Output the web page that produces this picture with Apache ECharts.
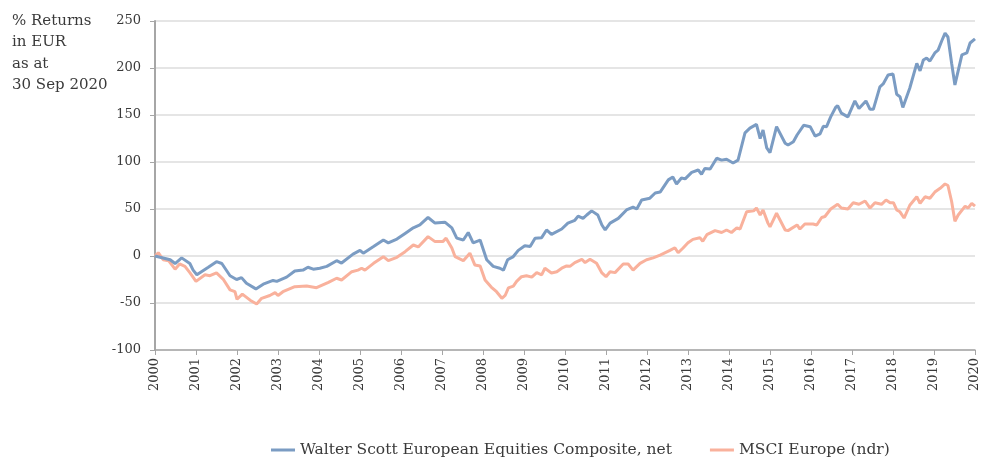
<!DOCTYPE html>
<html>
<head>
<meta charset="utf-8">
<script src="https://cdn.jsdelivr.net/npm/echarts@6/dist/echarts.min.js"></script>
<style>
  html, body { margin: 0; padding: 0; background: #fff; }
  #chart { width: 992px; height: 458px; }
</style>
</head>
<body>
<div id="chart"></div>
<script>
/* % returns in EUR, Walter Scott European Equities vs MSCI Europe (ndr) */
const SERIES_NAMES = ["Walter Scott European Equities Composite, net", "MSCI Europe (ndr)"];
const TITLE_LINES = ["% Returns", "in EUR", "as at", "30 Sep 2020"];
const YEAR_TICKS = [2000, 2020, 1];

// Walter Scott composite — decimal year / % return
const wsYears = [2000.0, 2000.37, 2000.49, 2000.65, 2000.85, 2000.93, 2001.02, 2001.3, 2001.5, 2001.63, 2001.83,
  2001.99, 2002.11, 2002.23, 2002.46, 2002.64, 2002.88, 2002.97, 2003.21, 2003.41, 2003.61, 2003.73, 2003.86,
  2004.02, 2004.19, 2004.43, 2004.55, 2004.83, 2005.0, 2005.08, 2005.33, 2005.57, 2005.69, 2005.9, 2006.1,
  2006.3, 2006.46, 2006.66, 2006.83, 2007.07, 2007.24, 2007.36, 2007.52, 2007.64, 2007.76, 2007.93, 2008.09,
  2008.25, 2008.41, 2008.5, 2008.6, 2008.73, 2008.86, 2009.02, 2009.15, 2009.27, 2009.43, 2009.55, 2009.67,
  2009.92, 2010.07, 2010.24, 2010.32, 2010.44, 2010.53, 2010.65, 2010.8, 2010.9, 2010.98, 2011.1, 2011.3,
  2011.5, 2011.66, 2011.75, 2011.87, 2012.07, 2012.2, 2012.32, 2012.52, 2012.63, 2012.72, 2012.84, 2012.93,
  2013.09, 2013.25, 2013.33, 2013.41, 2013.54, 2013.7, 2013.82, 2013.94, 2014.1, 2014.22, 2014.39, 2014.51,
  2014.67, 2014.76, 2014.83, 2014.92, 2015.0, 2015.16, 2015.37, 2015.44, 2015.57, 2015.66, 2015.82, 2015.98,
  2016.1, 2016.22, 2016.3, 2016.38, 2016.48, 2016.6, 2016.65, 2016.74, 2016.9, 2017.07, 2017.17, 2017.34,
  2017.44, 2017.52, 2017.68, 2017.76, 2017.88, 2018.0, 2018.09, 2018.17, 2018.24, 2018.41, 2018.58, 2018.66,
  2018.74, 2018.82, 2018.9, 2019.02, 2019.1, 2019.19, 2019.27, 2019.34, 2019.43, 2019.51, 2019.68, 2019.8,
  2019.88, 2020.0];
const wsReturns = [0, -4, -8, -2, -8, -15, -20, -12, -6, -8, -21,
  -25, -23, -29, -35, -30, -26, -27, -22.5, -16, -15, -12, -14,
  -13, -11, -5, -7.5, 2, 6, 3, 10, 17, 14, 18, 24,
  30, 33, 41, 35, 36, 30, 19, 17, 25, 14, 17, -4,
  -11, -13, -15, -4, -1, 6, 11, 10, 19, 19.5, 27.7, 23,
  28.7, 35, 38, 42.5, 40, 43.6, 48, 43.6, 33, 27.7, 35, 40,
  49, 52, 50, 59.6, 61.5, 67, 68, 81, 84, 76.6, 83, 82,
  89, 91.5, 87, 93, 92.5, 104, 102, 103, 99, 102, 131, 136,
  140, 125, 134, 115, 110, 137.6, 120, 118, 121.6, 128.7, 139, 137.6,
  127.6, 130, 138, 137.6, 148, 158, 160, 152, 148, 165, 157, 165,
  156, 156, 180, 183, 192.5, 193.6, 172, 169.5, 158, 178.7, 205, 197,
  208.5, 210.6, 207.4, 216, 219, 229, 237, 233, 205, 182, 214, 216,
  226.6, 231];

// MSCI Europe (ndr) — decimal year / % return
const msYears = [2000.0, 2000.08, 2000.2, 2000.33, 2000.49, 2000.6, 2000.73, 2000.85, 2001.0, 2001.22, 2001.34,
  2001.5, 2001.66, 2001.83, 2001.95, 2002.0, 2002.13, 2002.32, 2002.48, 2002.6, 2002.8, 2002.93, 2003.0,
  2003.12, 2003.41, 2003.7, 2003.94, 2004.23, 2004.43, 2004.55, 2004.8, 2004.95, 2005.04, 2005.12, 2005.33,
  2005.57, 2005.69, 2005.9, 2006.1, 2006.3, 2006.42, 2006.66, 2006.83, 2007.02, 2007.1, 2007.24, 2007.32,
  2007.52, 2007.68, 2007.8, 2007.93, 2008.05, 2008.2, 2008.33, 2008.46, 2008.54, 2008.62, 2008.74, 2008.82,
  2008.94, 2009.06, 2009.19, 2009.31, 2009.43, 2009.51, 2009.67, 2009.8, 2009.92, 2010.04, 2010.12, 2010.24,
  2010.41, 2010.49, 2010.61, 2010.77, 2010.9, 2011.0, 2011.1, 2011.22, 2011.42, 2011.54, 2011.66, 2011.83,
  2011.99, 2012.15, 2012.32, 2012.56, 2012.68, 2012.76, 2012.88, 2013.0, 2013.12, 2013.29, 2013.36, 2013.46,
  2013.66, 2013.82, 2013.94, 2014.06, 2014.19, 2014.27, 2014.43, 2014.6, 2014.67, 2014.76, 2014.83, 2014.95,
  2015.0, 2015.16, 2015.37, 2015.44, 2015.66, 2015.73, 2015.85, 2016.05, 2016.14, 2016.26, 2016.34, 2016.48,
  2016.65, 2016.74, 2016.9, 2017.03, 2017.17, 2017.32, 2017.44, 2017.56, 2017.72, 2017.83, 2017.93, 2018.01,
  2018.09, 2018.17, 2018.27, 2018.41, 2018.58, 2018.66, 2018.78, 2018.9, 2019.02, 2019.15, 2019.27, 2019.34,
  2019.43, 2019.51, 2019.59, 2019.76, 2019.83, 2019.92, 2020.0];
const msReturns = [0, 3.5, -4, -5, -14, -8.5, -11, -17.7, -27, -20, -21,
  -18, -24.5, -36, -38, -46, -40.5, -47, -51, -45, -42, -39, -42,
  -38, -32.6, -32, -33.7, -28, -23.7, -25.5, -16.7, -15, -13, -15, -7.8,
  -0.7, -5, -1.4, 4.6, 11.7, 9.6, 20.6, 15.3, 15.3, 19, 8.5, -0.7,
  -5, 3, -9.5, -10.6, -25.5, -33, -38, -45, -42, -34, -32, -27,
  -22, -21, -22.5, -17.7, -20, -13, -18, -16.7, -13, -10.6, -11, -7,
  -3.5, -7, -3.5, -7.8, -18, -22, -16.7, -17.7, -8.5, -8.5, -15, -7.8,
  -4, -2, 1, 6, 8.8, 3.5, 8.5, 14, 17.7, 19.5, 15.6, 22.7,
  27, 25, 27.7, 25, 30, 28.7, 47, 48, 51, 43.6, 49, 35,
  31, 45.5, 27.7, 27, 33, 28.7, 34, 34, 33, 41, 42, 50,
  55, 51, 50, 56.7, 55, 58.5, 51, 56.7, 55, 59.6, 56.7, 56.7,
  49, 47, 40.4, 54, 63, 56, 63, 61.5, 68, 72, 76.6, 75,
  58, 37, 43.6, 53, 51, 56, 53];

const C = {
  ws: "#7b9cc3",
  ms: "#f9b19c",
  axis: "#a6a6a6",
  grid: "#dcdcdc",
  text: "#3a3a3a",
  font: "DejaVu Serif",
};

const pairs = (xs, ys) => xs.map((x, i) => [x, ys[i]]);

const chart = echarts.init(document.getElementById("chart"), null, { renderer: "canvas" });
chart.setOption({
  animation: false,
  grid: { left: 155, right: 17, top: 21, bottom: 108 },
  legend: {
    top: 437, left: 266, itemGap: 38, itemWidth: 24, itemHeight: 3,
    icon: "rect",
    textStyle: { color: C.text, fontFamily: C.font, fontSize: 15.5 },
    data: SERIES_NAMES,
  },
  xAxis: {
    type: "value", min: YEAR_TICKS[0], max: YEAR_TICKS[1], interval: YEAR_TICKS[2],
    axisLine: { onZero: false, lineStyle: { color: C.axis, width: 1.5 } },
    axisTick: { show: true, length: 5, lineStyle: { color: C.axis } },
    splitLine: { show: false },
    axisLabel: { rotate: 90, margin: 8, color: C.text, fontFamily: C.font, fontSize: 13,
      formatter: (v) => String(v) },
  },
  yAxis: {
    type: "value", min: -100, max: 250, interval: 50,
    axisLine: { show: true, lineStyle: { color: C.axis, width: 2 } },
    axisTick: { show: true, length: 5, lineStyle: { color: C.axis } },
    splitLine: { lineStyle: { color: C.grid, width: 1.5 } },
    axisLabel: { margin: 14, color: C.text, fontFamily: C.font, fontSize: 13 },
  },
  series: [
    { name: SERIES_NAMES[0], type: "line", symbol: "none", z: 3,
      data: pairs(wsYears, wsReturns),
      itemStyle: { color: C.ws }, lineStyle: { color: C.ws, width: 3 } },
    { name: SERIES_NAMES[1], type: "line", symbol: "none", z: 2,
      data: pairs(msYears, msReturns),
      itemStyle: { color: C.ms }, lineStyle: { color: C.ms, width: 3 } },
  ],
  graphic: [{
    type: "text", left: 12, top: 10,
    style: { text: TITLE_LINES.join("\n"), fill: C.text, font: "15px 'DejaVu Serif'", lineHeight: 21.5 },
  }],
});
</script>
</body>
</html>
